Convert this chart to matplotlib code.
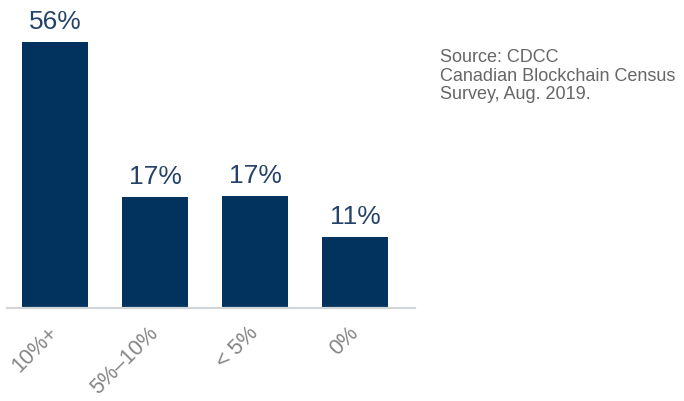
import matplotlib
matplotlib.use("Agg")
import matplotlib.pyplot as plt

# Categories and labels as shown on the chart
categories = ["10%+", "5%\u201310%", "< 5%", "0%"]
value_labels = ["56%", "17%", "17%", "11%"]
# bar heights as drawn in the picture (not to scale with the printed labels)
bar_heights = [56, 23.4, 23.5, 14.9]
source_lines = ["Source: CDCC", "Canadian Blockchain Census", "Survey, Aug. 2019."]

bar_color = "#02335f"
label_color = "#24426a"
tick_color = "#858585"

plt.rcParams['font.family'] = ['Liberation Sans', 'DejaVu Sans']

fig = plt.figure(figsize=(6.84, 4.02), dpi=100)
ax = fig.add_axes([7 / 684, 93 / 402, 408 / 684, 309 / 402])

x = list(range(len(categories)))
bars = ax.bar(x, bar_heights, width=0.66, color=bar_color, zorder=2)

for b, lab in zip(bars, value_labels):
    ax.annotate(lab, (b.get_x() + b.get_width() / 2, b.get_height()),
                xytext=(0, 6.5), textcoords="offset points",
                ha="center", va="bottom", fontsize=19, color=label_color)

ax.set_xlim(-0.48, 3.6)
ax.set_ylim(0, 309 / 4.75)

for s in ["top", "right", "left"]:
    ax.spines[s].set_visible(False)
ax.spines["bottom"].set_color("#d3d6d9")
ax.spines["bottom"].set_linewidth(1.6)

ax.set_yticks([])
ax.set_xticks(x)
ax.set_xticklabels(categories, rotation=45, ha="right", va="center",
                   rotation_mode="anchor", fontsize=15.5, color=tick_color)
ax.tick_params(axis="x", length=0, pad=15)

fig.text(440 / 684, 1 - 49 / 402, "\n".join(source_lines), ha="left", va="top",
         fontsize=13, color="#666666", linespacing=1.12)

fig.savefig("out.png", dpi=100)
